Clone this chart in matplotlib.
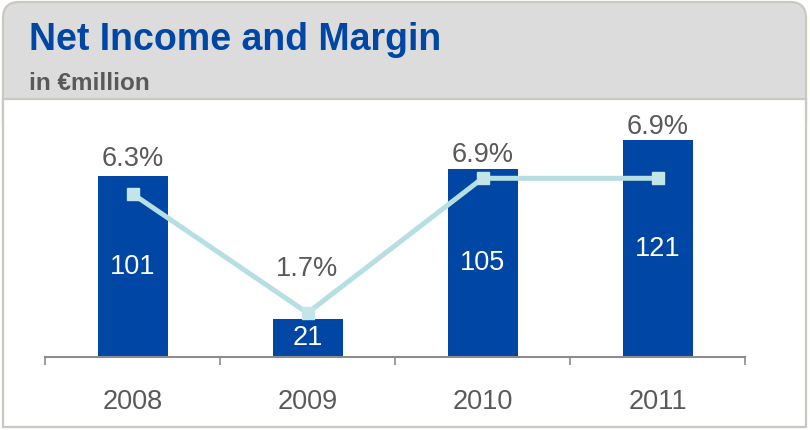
import matplotlib
matplotlib.use("Agg")
import matplotlib.pyplot as plt
from matplotlib.patches import FancyBboxPatch, Rectangle

# data
years = ["2008", "2009", "2010", "2011"]
net_income = [101, 21, 105, 121]
margin = [6.3, 1.7, 6.9, 6.9]
margin_labels = ["6.3%", "1.7%", "6.9%", "6.9%"]

blue = "#0047A5"
line_col = "#B5DFE2"
grey_txt = "#595959"
frame_col = "#CDC7C1"

plt.rcParams["font.family"] = ["Liberation Sans", "DejaVu Sans"]

fig = plt.figure(figsize=(8.1, 4.3), dpi=100)

# header and frame (inches, origin bottom left)
tr = fig.dpi_scale_trans
header = FancyBboxPatch((0.03, 2.9), 8.03, 1.38, boxstyle="round,pad=0,rounding_size=0.16",
                        transform=tr, facecolor="#DCDCDC", edgecolor=frame_col, linewidth=1.6,
                        zorder=-2)
body = Rectangle((0.03, 0.03), 8.03, 3.28, transform=tr, facecolor="white",
                 edgecolor=frame_col, linewidth=1.6, zorder=-1)
fig.add_artist(header)
fig.add_artist(body)

fig.text(0.29, 3.80, "Net Income and Margin", transform=tr, color=blue, fontsize=27,
         fontweight="bold", va="baseline", ha="left")
fig.text(0.29, 3.40, "in \u20acmillion", transform=tr, color=grey_txt, fontsize=17.5,
         fontweight="bold", va="baseline", ha="left")

# scale: px per unit on each axis, shared zero line
bar_scale = 1.79
pct_scale = 25.9
ax = fig.add_axes([45 / 810, 73 / 430, 700 / 810, 237 / 430])
ax.patch.set_alpha(0)
x = range(len(years))
ax.bar(x, net_income, width=0.4, color=blue, zorder=2)
ax.set_xlim(-0.5, 3.5)
ax.set_ylim(0, 237 / bar_scale)

ax2 = ax.twinx()
ax2.patch.set_alpha(0)
ax2.plot(x, margin, color=line_col, linewidth=3.6, marker="s", markersize=8,
         markerfacecolor="#C4E5E8", markeredgecolor="#C4E5E8", zorder=3)
ax2.set_ylim(0, 237 / pct_scale)

for a in (ax, ax2):
    for s in a.spines.values():
        s.set_visible(False)
    a.set_yticks([])
ax.spines["bottom"].set_visible(True)
ax.spines["bottom"].set_color("#8C8C8C")
ax.spines["bottom"].set_linewidth(1.5)

ax.set_xticks([-0.5, 0.5, 1.5, 2.5, 3.5], minor=True)
ax.tick_params(axis="x", which="minor", length=6, width=1.2, color="#8C8C8C")
ax.set_xticks(list(x))
ax.set_xticklabels(years, fontsize=19.5, color=grey_txt)
ax.tick_params(axis="x", which="major", length=0, pad=23)

# values inside the bars
for i, v in enumerate(net_income):
    ax.text(i, v / 2, str(v), ha="center", va="center", color="white", fontsize=19.5, zorder=4)

# margin labels above bar (or above line for 2009)
offsets = [3, 22, 1, 0]
for i, (v, m) in enumerate(zip(net_income, margin)):
    base = v * bar_scale / pct_scale if i != 1 else m
    ax2.annotate(margin_labels[i], (i, base), xytext=(0, offsets[i]),
                 textcoords="offset points", ha="center", va="bottom", color=grey_txt,
                 fontsize=19.5, zorder=5)

fig.savefig("out.png", dpi=100)
